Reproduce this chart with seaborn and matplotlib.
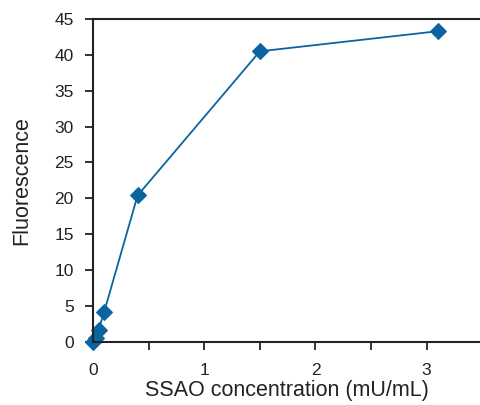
import pandas as pd
import matplotlib
matplotlib.use("Agg")
import matplotlib.pyplot as plt
import seaborn as sns
from matplotlib.ticker import MultipleLocator

# SSAO concentration (mU/mL) vs fluorescence
concentration = [0.0, 0.025, 0.05, 0.1, 0.4, 1.5, 3.1]
fluorescence = [0.0, 0.5, 1.7, 4.2, 20.4, 40.5, 43.3]

sns.set_style("ticks")
plt.rcParams['font.family'] = ['Liberation Sans', 'DejaVu Sans']

data = pd.DataFrame({"conc": concentration, "fluor": fluorescence})

fig = plt.figure(figsize=(4.8, 4.05), dpi=100)
ax = fig.add_axes([0.194, 0.156, 0.806, 0.797])
color = "#0a64a0"
sns.lineplot(data=data, x="conc", y="fluor", ax=ax, color=color, linewidth=1.3,
             marker="D", markersize=8, markeredgecolor=color, clip_on=False)

ax.set_xlim(0, 3.48)
ax.set_ylim(0, 45)
ax.xaxis.set_major_locator(MultipleLocator(1))
ax.xaxis.set_minor_locator(MultipleLocator(0.5))
ax.yaxis.set_major_locator(MultipleLocator(5))
ax.tick_params(axis="both", which="both", direction="out", length=6, width=1.3,
               labelsize=12.5, labelcolor="#222222", color="#222222")
ax.tick_params(axis="x", pad=9)
ax.tick_params(axis="y", pad=8)

for side in ["left", "bottom", "top"]:
    ax.spines[side].set_linewidth(1.5)
    ax.spines[side].set_color("#222222")
ax.spines["right"].set_visible(False)

ax.set_xlabel("SSAO concentration (mU/mL)", fontsize=15.5, color="#222222", labelpad=2)
ax.set_ylabel("Fluorescence", fontsize=15.5, color="#222222", labelpad=16)

fig.savefig("out.png", dpi=100)
